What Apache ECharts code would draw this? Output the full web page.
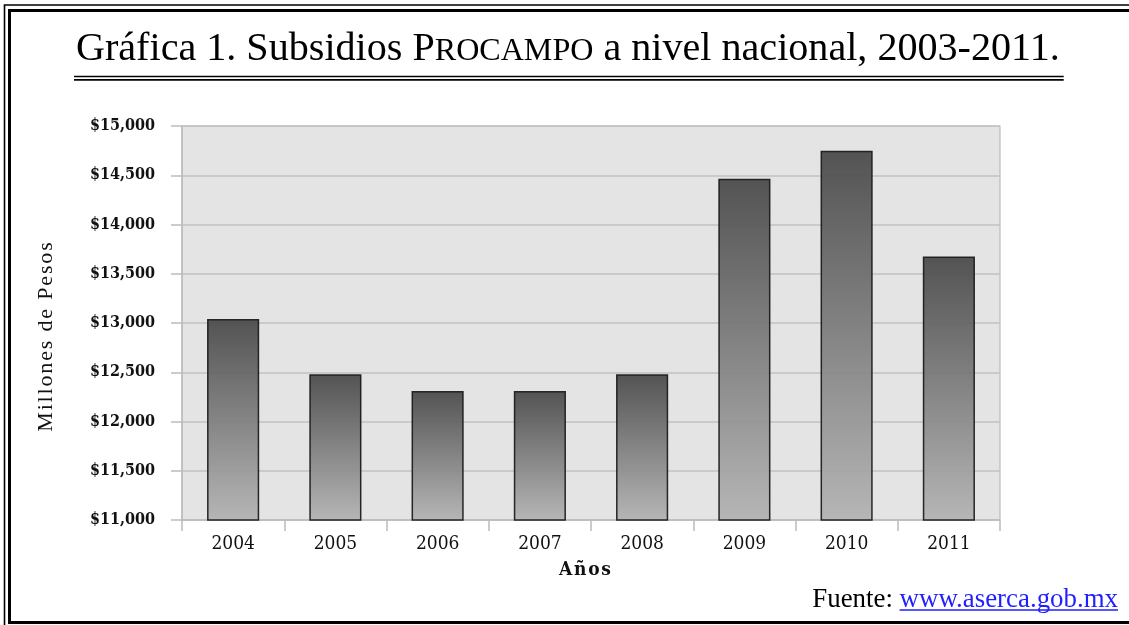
<!DOCTYPE html>
<html>
<head>
<meta charset="utf-8">
<script src="https://cdn.jsdelivr.net/npm/echarts@6/dist/echarts.min.js"></script>
<style>
  html, body { margin: 0; padding: 0; background: #ffffff; }
  #chart { width: 1129px; height: 625px; }
</style>
</head>
<body>
<div id="chart"></div>
<script>
// PROCAMPO subsidies, millions of pesos
const years = ['2004', '2005', '2006', '2007', '2008', '2009', '2010', '2011'];
const subsidies = [13040, 12480, 12310, 12310, 12480, 14465, 14750, 13675];
const yMin = 11000;
const yMax = 15000;
const yStep = 500;

const titleParts = ['Gráfica 1. Subsidios P', 'ROCAMPO', ' a nivel nacional, 2003-2011.'];
const yAxisTitle = 'Millones de Pesos';
const xAxisTitle = 'Años';
const sourceLabel = 'Fuente: ';
const sourceUrl = 'www.aserca.gob.mx';

const SERIF = "'Liberation Serif', 'Times New Roman', serif";
const SLAB = "'DejaVu Serif Condensed', 'DejaVu Serif', serif";

// text measuring helpers (same font strings that the renderer builds)
const mctx = document.createElement('canvas').getContext('2d');
function fontStr(size, family, weight) {
  return 'normal ' + (weight || 'normal') + ' ' + size + 'px ' + family;
}
function textWidth(text, size, family, weight) {
  mctx.font = fontStr(size, family, weight);
  return mctx.measureText(text).width;
}
// distance from the 'middle' line to the alphabetic baseline
function midToBaseline(size, family, weight) {
  mctx.font = fontStr(size, family, weight);
  mctx.textBaseline = 'middle';
  const d = mctx.measureText('H').actualBoundingBoxDescent;
  mctx.textBaseline = 'alphabetic';
  return d;
}
function spaced(text) {
  return Array.from(text).join('\u200A');
}

const chart = echarts.init(document.getElementById('chart'), null, { renderer: 'canvas' });

const graphics = [];

// double frame
graphics.push({
  type: 'rect', silent: true, z: 100,
  shape: { x: 4.5, y: 5, width: 1300, height: 800 },
  style: { fill: 'none', stroke: '#000', lineWidth: 1.6 }
});
graphics.push({
  type: 'rect', silent: true, z: 100,
  shape: { x: 9.5, y: 10.5, width: 1300, height: 612 },
  style: { fill: 'none', stroke: '#000', lineWidth: 3 }
});

// title with small caps part, fitted to its span
(function () {
  const left = 76, right = 1060, baseline = 59.5;
  const base = 40, capRatio = 0.8;
  const w0 = textWidth(titleParts[0], base, SERIF) +
             textWidth(titleParts[1], base * capRatio, SERIF) +
             textWidth(titleParts[2], base, SERIF);
  const big = base * (right - left) / w0;
  const small = big * capRatio;
  const sizes = [big, small, big];
  let x = left;
  titleParts.forEach(function (part, i) {
    const s = sizes[i];
    graphics.push({
      type: 'text', silent: true, z: 100,
      x: x, y: baseline - midToBaseline(s, SERIF),
      style: {
        text: part, fontSize: s, fontFamily: SERIF, fill: '#000',
        align: 'left', verticalAlign: 'middle',
        textAlign: 'left', textVerticalAlign: 'middle'
      }
    });
    x += textWidth(part, s, SERIF);
  });
  [76.5, 79.8].forEach(function (y) {
    graphics.push({
      type: 'line', silent: true, z: 100,
      shape: { x1: left - 2, y1: y, x2: x + 4, y2: y },
      style: { stroke: '#000', lineWidth: 1.7 }
    });
  });
})();

// vertical axis title
graphics.push({
  type: 'text', silent: true, z: 100,
  x: 46, y: 337, rotation: Math.PI / 2,
  style: {
    text: spaced(yAxisTitle), fontSize: 22, fontFamily: SERIF, fill: '#111',
    align: 'center', verticalAlign: 'middle',
    textAlign: 'center', textVerticalAlign: 'middle'
  }
});

// horizontal axis title
graphics.push({
  type: 'text', silent: true, z: 100,
  x: 585, y: 570,
  style: {
    text: spaced(xAxisTitle), fontSize: 19, fontWeight: 'bold', fontFamily: SLAB, fill: '#111',
    align: 'center', verticalAlign: 'middle',
    textAlign: 'center', textVerticalAlign: 'middle'
  }
});

// source line with link
(function () {
  const right = 1118, left = 812, baseline = 607;
  const base = 22;
  const w0 = textWidth(sourceLabel + sourceUrl, base, SERIF);
  const s = base * (right - left) / w0;
  const wLabel = textWidth(sourceLabel, s, SERIF);
  const wUrl = textWidth(sourceUrl, s, SERIF);
  const y = baseline - midToBaseline(s, SERIF);
  graphics.push({
    type: 'text', silent: true, z: 100, x: right - wUrl - wLabel, y: y,
    style: { text: sourceLabel, fontSize: s, fontFamily: SERIF, fill: '#000',
      align: 'left', verticalAlign: 'middle', textAlign: 'left', textVerticalAlign: 'middle' }
  });
  graphics.push({
    type: 'text', silent: true, z: 100, x: right - wUrl, y: y,
    style: { text: sourceUrl, fontSize: s, fontFamily: SERIF, fill: '#1f1fff',
      align: 'left', verticalAlign: 'middle', textAlign: 'left', textVerticalAlign: 'middle' }
  });
  graphics.push({
    type: 'line', silent: true, z: 100,
    shape: { x1: right - wUrl, y1: baseline + 3, x2: right, y2: baseline + 3 },
    style: { stroke: '#1f1fff', lineWidth: 1.3 }
  });
})();

const gridLine = '#c2c2c2';
const axisGrey = '#bcbcbc';

const option = {
  animation: false,
  backgroundColor: '#ffffff',
  grid: {
    left: 182, right: 129, top: 126, bottom: 105,
    show: true, backgroundColor: '#e4e4e4', borderColor: axisGrey, borderWidth: 1.2
  },
  xAxis: {
    type: 'category',
    data: years,
    boundaryGap: true,
    axisLine: { show: true, lineStyle: { color: axisGrey, width: 1.5 } },
    axisTick: { show: true, length: 11, alignWithLabel: false, lineStyle: { color: axisGrey, width: 1.5 } },
    axisLabel: { margin: 15, color: '#111', fontSize: 19, fontFamily: SLAB },
    splitLine: { show: false }
  },
  yAxis: {
    type: 'value',
    min: yMin, max: yMax, interval: yStep,
    axisLine: { show: true, lineStyle: { color: axisGrey, width: 1.5 } },
    axisTick: { show: true, length: 11, lineStyle: { color: axisGrey, width: 1.5 } },
    axisLabel: {
      margin: 27, color: '#111', fontSize: 16, fontWeight: 'bold', fontFamily: SLAB,
      formatter: function (v) { return '$' + v.toLocaleString('en-US'); }
    },
    splitLine: { show: true, lineStyle: { color: gridLine, width: 1.5 } }
  },
  series: [{
    type: 'bar',
    data: subsidies,
    barWidth: '51%',
    itemStyle: {
      color: new echarts.graphic.LinearGradient(0, 0, 0, 1, [
        { offset: 0, color: '#4a4a4a' },
        { offset: 1, color: '#b3b3b3' }
      ]),
      borderColor: '#1c1c1c',
      borderWidth: 1.5,
      opacity: 0.94
    }
  }],
  graphic: { elements: graphics }
};

chart.setOption(option);
</script>
</body>
</html>
